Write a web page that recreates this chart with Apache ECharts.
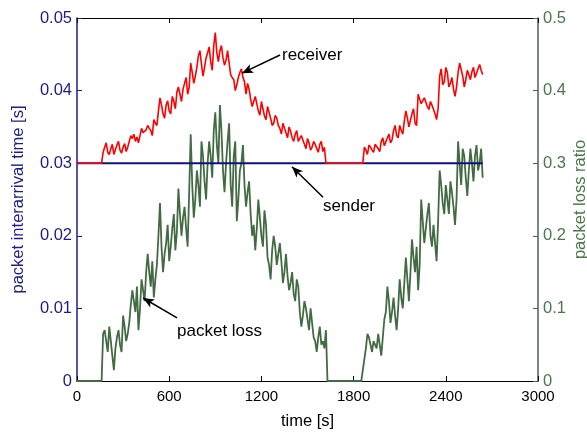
<!DOCTYPE html>
<html>
<head>
<meta charset="utf-8">
<script src="https://cdn.jsdelivr.net/npm/echarts@6/dist/echarts.min.js"></script>
<style>
  html, body { margin: 0; padding: 0; background: #fff; }
  #chart { width: 587px; height: 433px; }
</style>
</head>
<body>
<div id="chart"></div>
<script>
// samples every 10 s, starting at t = 0
const step = 10;

// receiver interarrival time [s] (left axis)
const receiver = [
  0.0300, 0.0300, 0.0300, 0.0300, 0.0300, 0.0300, 0.0300, 0.0300, 0.0300,
  0.0300, 0.0300, 0.0300, 0.0300, 0.0300, 0.0300, 0.0300, 0.0300,
  0.0315, 0.0322, 0.0328, 0.0315, 0.0312, 0.0320, 0.0326, 0.0312, 0.0319, 0.0325,
  0.0330, 0.0318, 0.0314, 0.0322, 0.0327, 0.0316, 0.0322, 0.0330, 0.0338, 0.0334,
  0.0340, 0.0330, 0.0336, 0.0328, 0.0338, 0.0348, 0.0342, 0.0340, 0.0346, 0.0352,
  0.0348, 0.0345, 0.0338, 0.0360, 0.0355, 0.0352, 0.0372, 0.0390, 0.0380, 0.0368,
  0.0362, 0.0380, 0.0386, 0.0372, 0.0368, 0.0392, 0.0385, 0.0375, 0.0398, 0.0405,
  0.0395, 0.0385, 0.0402, 0.0410, 0.0418, 0.0395, 0.0405, 0.0438, 0.0425, 0.0410,
  0.0420, 0.0432, 0.0448, 0.0455, 0.0436, 0.0420, 0.0432, 0.0445, 0.0452, 0.0460,
  0.0440, 0.0428, 0.0462, 0.0480, 0.0452, 0.0440, 0.0455, 0.0462, 0.0445, 0.0435,
  0.0442, 0.0455, 0.0438, 0.0422, 0.0418, 0.0415, 0.0400, 0.0408, 0.0418, 0.0425,
  0.0430, 0.0418, 0.0412, 0.0395, 0.0410, 0.0402, 0.0388, 0.0378, 0.0380, 0.0392,
  0.0382, 0.0372, 0.0366, 0.0385, 0.0375, 0.0365, 0.0360, 0.0378, 0.0370, 0.0362,
  0.0352, 0.0355, 0.0366, 0.0362, 0.0352, 0.0348, 0.0340, 0.0355, 0.0348, 0.0342,
  0.0335, 0.0350, 0.0344, 0.0335, 0.0330, 0.0340, 0.0345, 0.0330, 0.0328, 0.0338,
  0.0332, 0.0326, 0.0320, 0.0334, 0.0328, 0.0318, 0.0322, 0.0330, 0.0326, 0.0320,
  0.0315, 0.0326, 0.0330, 0.0316, 0.0322,
  0.0300, 0.0300, 0.0300, 0.0300, 0.0300, 0.0300, 0.0300, 0.0300, 0.0300, 0.0300,
  0.0300, 0.0300, 0.0300, 0.0300, 0.0300, 0.0300, 0.0300, 0.0300, 0.0300, 0.0300,
  0.0300, 0.0300, 0.0300, 0.0300, 0.0300,
  0.0322, 0.0318, 0.0312, 0.0325, 0.0322, 0.0318, 0.0315, 0.0326, 0.0324, 0.0320,
  0.0316, 0.0330, 0.0335, 0.0324, 0.0322, 0.0335, 0.0340, 0.0328, 0.0332, 0.0345,
  0.0352, 0.0338, 0.0335, 0.0352, 0.0345, 0.0340, 0.0358, 0.0372, 0.0362, 0.0350,
  0.0348, 0.0368, 0.0375, 0.0355, 0.0352, 0.0395, 0.0388, 0.0382, 0.0380, 0.0390,
  0.0392, 0.0378, 0.0374, 0.0385, 0.0380, 0.0374, 0.0368, 0.0360, 0.0375, 0.0420,
  0.0430, 0.0408, 0.0412, 0.0432, 0.0425, 0.0405, 0.0410, 0.0418, 0.0402, 0.0392,
  0.0405, 0.0425, 0.0438, 0.0438, 0.0420, 0.0405, 0.0415, 0.0428, 0.0422, 0.0415,
  0.0426, 0.0432, 0.0418, 0.0424, 0.0430, 0.0436, 0.0428, 0.0422
];

// packet loss ratio (right axis)
const loss = [
  0, 0, 0, 0, 0, 0, 0, 0, 0, 0, 0, 0, 0, 0, 0, 0, 0,
  0.065, 0.070, 0.055, 0.040, 0.075, 0.075, 0.035, 0.015, 0.045, 0.060,
  0.070, 0.050, 0.040, 0.090, 0.075, 0.055, 0.065, 0.080, 0.105, 0.125,
  0.110, 0.095, 0.130, 0.070, 0.100, 0.140, 0.125, 0.110, 0.150, 0.175,
  0.150, 0.130, 0.165, 0.115, 0.140, 0.160, 0.200, 0.245, 0.185, 0.150,
  0.175, 0.190, 0.215, 0.165, 0.185, 0.210, 0.230, 0.180, 0.205, 0.265,
  0.230, 0.200, 0.225, 0.240, 0.210, 0.185, 0.260, 0.340, 0.270, 0.225,
  0.250, 0.290, 0.270, 0.240, 0.330, 0.310, 0.275, 0.250, 0.300, 0.330,
  0.310, 0.280, 0.345, 0.370, 0.325, 0.300, 0.380, 0.345, 0.290, 0.260,
  0.300, 0.330, 0.355, 0.270, 0.240, 0.310, 0.330, 0.220, 0.250, 0.290,
  0.300, 0.325, 0.270, 0.240, 0.260, 0.275, 0.230, 0.200, 0.215, 0.180,
  0.210, 0.250, 0.225, 0.200, 0.185, 0.235, 0.215, 0.170, 0.160, 0.140,
  0.180, 0.200, 0.185, 0.160, 0.175, 0.190, 0.165, 0.135, 0.150, 0.175,
  0.145, 0.125, 0.135, 0.150, 0.120, 0.110, 0.140, 0.130, 0.095, 0.075,
  0.090, 0.110, 0.100, 0.085, 0.070, 0.100, 0.080, 0.060, 0.055, 0.040,
  0.060, 0.075, 0.050, 0.055, 0.045, 0.070,
  0, 0, 0, 0, 0, 0, 0, 0, 0, 0, 0, 0, 0, 0, 0, 0, 0, 0, 0, 0, 0, 0, 0, 0,
  0.030, 0.045, 0.065, 0.060, 0.050, 0.040, 0.055, 0.055, 0.045, 0.065,
  0.050, 0.035, 0.060, 0.085, 0.095, 0.130, 0.110, 0.080, 0.095, 0.115,
  0.090, 0.070, 0.100, 0.140, 0.115, 0.100, 0.135, 0.170, 0.140, 0.110,
  0.150, 0.195, 0.170, 0.150, 0.185, 0.125, 0.160, 0.250, 0.220, 0.190,
  0.210, 0.230, 0.245, 0.200, 0.185, 0.215, 0.190, 0.165, 0.220, 0.290,
  0.270, 0.245, 0.230, 0.270, 0.250, 0.230, 0.275, 0.260, 0.240, 0.215,
  0.250, 0.330, 0.300, 0.270, 0.320, 0.310, 0.280, 0.255, 0.290, 0.320,
  0.300, 0.275, 0.310, 0.325, 0.290, 0.300, 0.320, 0.280
];

// sender interarrival time is constant
const senderTimes = [0, 2640];
const sender = [0.03, 0.03];

const xTicks = [0, 600, 1200, 1800, 2400, 3000];

const pair = (arr) => arr.map((v, i) => [i * step, v]);

const font = 'Liberation Sans, Arial, sans-serif';
const leftColor = '#1c1c8c';
const rightColor = '#4b784b';
const rightLine = '#4a6358';

const chart = echarts.init(document.getElementById('chart'), null, { renderer: 'canvas' });

const arrowLine = (from, to) => [
  { coord: from, symbol: 'none' },
  { coord: to, symbol: 'arrow', symbolSize: [7, 11] }
];
const note = (at, text) => ({
  coord: at,
  symbol: 'rect',
  symbolSize: 0,
  label: { show: true, formatter: text, position: 'right', distance: 0,
           color: '#000', fontSize: 17, fontFamily: font }
});

chart.setOption({
  animation: false,
  backgroundColor: '#fff',
  grid: { left: 77, right: 49, top: 18, bottom: 52, containLabel: false, outerBoundsMode: 'none' },
  xAxis: [
    {
      type: 'value', min: 0, max: 3000, interval: 600, position: 'bottom',
      name: 'time [s]', nameLocation: 'middle', nameGap: 32,
      nameTextStyle: { color: '#000', fontSize: 16.5, fontFamily: font },
      axisLine: { onZero: false, lineStyle: { color: '#000', width: 1 } },
      axisTick: { inside: true, length: 5, lineStyle: { color: '#000' } },
      axisLabel: { color: '#000', fontSize: 15, fontFamily: font, margin: 8,
                   formatter: v => (xTicks.includes(v) ? String(v) : '') },
      splitLine: { show: false }
    },
    {
      type: 'value', min: 0, max: 3000, interval: 600, position: 'top',
      axisLine: { onZero: false, lineStyle: { color: '#000', width: 1 } },
      axisTick: { inside: true, length: 5, lineStyle: { color: '#000' } },
      axisLabel: { show: false },
      splitLine: { show: false }
    }
  ],
  yAxis: [
    {
      type: 'value', min: 0, max: 0.05, interval: 0.01, position: 'left',
      name: 'packet interarrival time [s]', nameLocation: 'middle', nameGap: 50,
      nameMoveOverlap: false,
      nameTextStyle: { color: leftColor, fontSize: 16.5, fontFamily: font },
      axisLine: { show: true, onZero: false, lineStyle: { color: leftColor, width: 1.5 } },
      axisTick: { show: true, inside: true, length: 5, lineStyle: { color: leftColor } },
      axisLabel: { color: leftColor, fontSize: 16.5, fontFamily: font, margin: 5 },
      splitLine: { show: false }
    },
    {
      type: 'value', min: 0, max: 0.5, interval: 0.1, position: 'right',
      name: 'packet loss ratio', nameLocation: 'middle', nameGap: 34,
      nameMoveOverlap: false,
      nameTextStyle: { color: rightColor, fontSize: 16.5, fontFamily: font },
      axisLine: { show: true, onZero: false, lineStyle: { color: rightLine, width: 1.5 } },
      axisTick: { show: true, inside: true, length: 5, lineStyle: { color: rightLine } },
      axisLabel: { color: rightColor, fontSize: 16.5, fontFamily: font, margin: 5 },
      splitLine: { show: false }
    }
  ],
  series: [
    {
      name: 'packet loss', type: 'line', yAxisIndex: 1, data: pair(loss),
      showSymbol: false, lineStyle: { color: '#436b43', width: 1.8 }, z: 2,
      markLine: {
        silent: true, animation: false,
        lineStyle: { color: '#000', width: 1.5, type: 'solid' },
        label: { show: false },
        data: [arrowLine([651, 0.087], [430, 0.1143])]
      },
      markPoint: { data: [note([651, 0.068], 'packet loss')] }
    },
    {
      name: 'sender', type: 'line', data: senderTimes.map((t, i) => [t, sender[i]]),
      showSymbol: false, lineStyle: { color: '#10107f', width: 2 }, z: 3,
      markLine: {
        silent: true, animation: false,
        lineStyle: { color: '#000', width: 1.5, type: 'solid' },
        label: { show: false },
        data: [arrowLine([1601, 0.0253], [1399, 0.0295])]
      },
      markPoint: { data: [note([1601, 0.0240], 'sender')] }
    },
    {
      name: 'receiver', type: 'line', data: pair(receiver),
      showSymbol: false, lineStyle: { color: '#ff0000', width: 1.6 }, z: 4,
      markLine: {
        silent: true, animation: false,
        lineStyle: { color: '#000', width: 1.5, type: 'solid' },
        label: { show: false },
        data: [arrowLine([1321, 0.0449], [1074, 0.0424])]
      },
      markPoint: { data: [note([1334, 0.0449], 'receiver')] }
    }
  ]
});
</script>
</body>
</html>
